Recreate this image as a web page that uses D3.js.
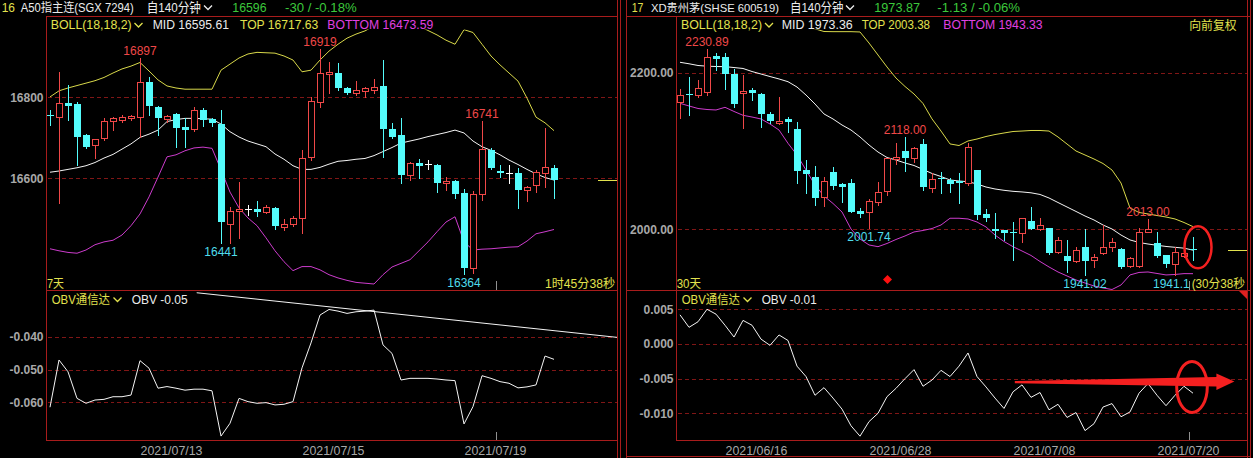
<!DOCTYPE html>
<html><head><meta charset="utf-8">
<script src="https://cdn.jsdelivr.net/npm/d3@7"></script>
<style>
html,body{margin:0;padding:0;background:#000;overflow:hidden}
svg{display:block;background:#000}
</style></head><body>
<svg id="c" width="1253" height="458"></svg>
<script>
// ================= DATA =================
// ---- Left: A50指主连 (SGX 7294), 140-minute bars ----
const leftOpen  = [16757,16751,16786,16784,16707,16681,16699,16742,16744,16749,16751,16838,16775,16746,16759,16727,16722,16769,16746,16734,16487,16519,16524,16524,16518,16526,16480,16487,16501,16653,16789,16857,16861,16822,16810,16816,16818,16828,16721,16707,16607,16637,16635,16633,16589,16594,16563,16378,16561,16670,16619,16613,16613,16571,16584,16614,16625];
const leftHigh  = [16769,16862,16830,16789,16710,16698,16748,16752,16756,16757,16897,16849,16779,16756,16762,16749,16775,16773,16750,16769,16530,16592,16534,16545,16535,16530,16500,16507,16670,16800,16919,16888,16884,16826,16840,16825,16846,16892,16737,16748,16640,16647,16645,16636,16604,16596,16573,16569,16741,16675,16633,16633,16625,16582,16621,16723,16633];
const leftLow   = [16732,16540,16744,16633,16676,16650,16695,16719,16740,16745,16703,16756,16707,16740,16678,16678,16718,16729,16730,16441,16441,16452,16510,16507,16514,16475,16473,16483,16464,16645,16777,16811,16818,16808,16805,16800,16810,16653,16700,16589,16596,16600,16623,16565,16571,16551,16364,16366,16547,16622,16603,16588,16526,16545,16567,16579,16551];
const leftClose = [16755,16786,16779,16703,16677,16696,16742,16748,16751,16754,16837,16779,16748,16754,16724,16719,16769,16744,16736,16491,16519,16524,16524,16518,16529,16482,16487,16501,16650,16791,16859,16863,16822,16810,16818,16822,16826,16721,16703,16609,16637,16630,16635,16589,16594,16561,16378,16561,16672,16626,16612,16613,16571,16578,16615,16627,16596];
const leftMid    = [16615,16618,16622,16626,16631,16639,16650,16659,16672,16685,16701,16709,16719,16740,16745,16748,16748,16747,16746,16734,16715,16702,16692,16685,16678,16660,16647,16631,16622,16622,16627,16635,16642,16644,16647,16649,16656,16666,16676,16687,16692,16697,16703,16708,16713,16719,16712,16692,16678,16669,16658,16645,16634,16622,16611,16602,16595.61];
const leftTop    = [16801,16816,16823,16829,16835,16841,16849,16860,16870,16877,16886,16865,16843,16828,16823,16820,16820,16820,16820,16867,16882,16897,16907,16911,16910,16909,16902,16892,16863,16867,16892,16914,16931,16946,16956,16964,16976,16982,16985,16985,16982,16976,16965,16954,16941,16931,16967,16960,16931,16902,16880,16860,16840,16798,16751,16737,16717.63];
const leftBottom = [16426,16421,16417,16415,16423,16436,16443,16447,16460,16483,16512,16554,16603,16653,16658,16668,16675,16677,16674,16621,16566,16527,16502,16483,16453,16421,16394,16372,16382,16382,16374,16362,16354,16348,16343,16341,16339,16362,16381,16390,16399,16421,16443,16468,16492,16505,16443,16423,16425,16426,16428,16430,16431,16445,16463,16468,16473.59];
const leftObv = [-0.0615,-0.0471,-0.0507,-0.0588,-0.0603,-0.0593,-0.0591,-0.0583,-0.0583,-0.0578,-0.0473,-0.0496,-0.0557,-0.0552,-0.0557,-0.0563,-0.0560,-0.0560,-0.0565,-0.0703,-0.0664,-0.0588,-0.0598,-0.0603,-0.0601,-0.0608,-0.0606,-0.0598,-0.0495,-0.0419,-0.0334,-0.0317,-0.0322,-0.0329,-0.0324,-0.0322,-0.0319,-0.0425,-0.0451,-0.0532,-0.0527,-0.0527,-0.0527,-0.0529,-0.0532,-0.0534,-0.0666,-0.0613,-0.0519,-0.0527,-0.0537,-0.0542,-0.0556,-0.0553,-0.0547,-0.0459,-0.0469];
const leftObvTrend = [[16.3,-0.0266],[63,-0.0402]];
const leftPriceTicks = [16600,16800];
const leftObvTicks = [-0.040,-0.050,-0.060];
const leftDateLabels = ["2021/07/13","2021/07/15","2021/07/19"];
const leftDatePos = [13.5,31.5,49.5];
const leftMarks = [{i:10,v:16897,k:"high"},{i:30,v:16919,k:"high"},{i:48,v:16741,k:"high"},{i:19,v:16441,k:"low"},{i:46,v:16364,k:"low"}];
const leftQuote = ["16","A50指主连(SGX 7294)","自140分钟","16596","-30 / -0.18%"];

// ---- Right: XD贵州茅 (SHSE 600519), 140-minute bars ----
const rightOpen  = [2162,2173,2171.5,2175,2221,2219.7,2198.3,2174.5,2178,2172.4,2147,2136,2140.5,2128,2075.8,2066.4,2041,2072.8,2057.5,2058.8,2023.8,2022,2035.3,2049,2089.4,2100,2091.5,2109,2052.4,2066,2063,2061.5,2058.8,2075.8,2019.6,2000.4,1999,1997,1995.7,2010.6,2000,2002,1971.4,1965.9,1960,1977,1960.8,1969.4,1977,1974.9,1953.1,1953,1997,1982,1967.2,1955.7,1966,1975];
const rightHigh  = [2179,2194,2190.6,2230.89,2225.5,2225.5,2205,2197,2180,2174,2150,2169,2144,2137,2088.5,2081,2066.4,2080,2059,2064,2026.8,2038.7,2061,2091,2109.8,2118,2105.5,2115,2072.3,2073.6,2065,2071.5,2110.6,2076,2025.6,2020.4,1999,2009.7,2015,2029,2014,2002,1990.6,1986.4,1977.8,2000,1968.5,2005.5,1988.5,1975.8,1965.1,2001.3,2013,1997,1967.2,1977.8,1979,1989.8];
const rightLow   = [2142,2146,2169.4,2171,2203.4,2178.8,2156,2129,2165,2131,2135.4,2135,2124.7,2059,2046,2031,2030,2052,2035,2022,2015.4,2001.74,2031,2043.8,2083,2075,2086,2050,2048,2046.8,2048,2033.2,2056.6,2012.8,2011,1988.5,1986.4,1960.8,1984,2000,1999,1968.5,1970,1945.9,1958.6,1941.02,1951.5,1968,1972.7,1950,1951.5,1951.5,1997,1965,1951.5,1941.1,1964,1960.8];
const rightClose = [2171,2171,2180,2220,2217.5,2198,2159.6,2177,2173.7,2147,2138.7,2138.7,2137.4,2075,2070.6,2040.4,2062,2055.7,2054.4,2022.5,2019.2,2036,2048,2090.7,2092.7,2091.5,2103.4,2054.4,2063.9,2064,2057.9,2059.4,2105.5,2018.3,2014,1997.8,1995.7,1995,2014,2000.4,2005.5,1970,1986.3,1959.9,1973.6,1960,1964.3,1977,1984.2,1951.5,1963,1997,2000,1966,1955.7,1971.4,1970,1973.87];
const rightMid    = [2213.3,2211.4,2209.2,2208.3,2207.9,2207.7,2206.6,2205.4,2201.5,2198.3,2195.1,2192,2188.5,2181.7,2171.5,2160,2147.3,2140.9,2133.2,2126.8,2117.9,2107.7,2098.7,2091.7,2088.5,2084.7,2081.5,2076.4,2071.3,2067.4,2063,2061.7,2060.8,2057.9,2054,2051.5,2049.8,2048.5,2047.7,2046.6,2044.5,2040,2034.2,2028.5,2022.8,2017,2011.9,2005.5,2000.4,1992.7,1986.4,1983.2,1981.2,1979.6,1978.1,1977,1975.9,1973.36];
const rightTop    = [2292,2290,2288,2286,2284,2282,2280,2278,2275,2272,2269,2266,2263,2260,2258,2256,2252.6,2252.4,2252.4,2252.4,2252,2237.9,2222.6,2207.3,2193.2,2182.4,2172.8,2160.7,2141,2125.5,2109,2107,2112.8,2115.3,2118.5,2121,2123,2124.9,2125.5,2126.2,2126.2,2125.5,2117.9,2108.9,2100,2094.9,2089.8,2084,2075.7,2059.1,2027.2,2021.5,2019.6,2017.6,2015.7,2013.2,2008.7,2003.38];
const rightBottom = [2160.9,2157.5,2154.3,2153,2152.4,2155.8,2150.5,2145.6,2143.4,2140.9,2134.5,2126.8,2109.8,2094.9,2075.7,2056.6,2042.5,2033,2022.1,2000.4,1987.6,1980,1977.8,1981.9,1987,1991.5,1996.6,1998.5,2001,2005.5,2014.1,2014.1,2013.2,2009.3,2003,1992.7,1984.4,1977.8,1972.3,1966.6,1958.9,1951.9,1945.5,1940.4,1935.3,1931.4,1927.6,1925.1,1923.1,1928.9,1941.7,1944.9,1945.5,1943.6,1941.7,1942.3,1943.4,1943.33];
const rightObv = [0.0042,0.0024,0.0032,0.0050,0.0043,0.0027,0.0010,0.0034,0.0027,0.0007,-0.0002,0.0013,0.0005,-0.0032,-0.0047,-0.0074,-0.0063,-0.0078,-0.0094,-0.0118,-0.0133,-0.0112,-0.0100,-0.0076,-0.0064,-0.0050,-0.0037,-0.0061,-0.0052,-0.0038,-0.0047,-0.0032,-0.0013,-0.0047,-0.0062,-0.0078,-0.0093,-0.0069,-0.0059,-0.0077,-0.0070,-0.0095,-0.0087,-0.0106,-0.0099,-0.0125,-0.0115,-0.0091,-0.0086,-0.0105,-0.0098,-0.0071,-0.0057,-0.0074,-0.0089,-0.0074,-0.0061,-0.0071];
const rightPriceTicks = [2000,2200];
const rightObvTicks = [0.005,0.000,-0.005,-0.010];
const rightDateLabels = ["2021/06/16","2021/06/28","2021/07/08","2021/07/20"];
const rightDatePos = [8.5,24.5,40.5,56.5];
const rightMarks = [{i:3,v:2230.89,k:"high"},{i:25,v:2118.00,k:"high"},{i:52,v:2013.00,k:"high"},{i:21,v:2001.74,k:"low"},{i:45,v:1941.02,k:"low"},{i:55,v:1941.10,k:"low",txt:"1941.1"}];
const rightSignals = [23];
const rightQuote = ["17","XD贵州茅(SHSE 600519)","自140分钟","1973.87","-1.13 / -0.06%"];
const rightArrow = [[37.2,-0.0055],[61.6,-0.0054]];

// ================= STYLE =================
const F = '"Liberation Sans", Arial, "Noto Sans CJK SC", sans-serif';
const RED='#f04848', CYAN='#54fcfc', LBLCYAN='#4fdcec', FRAME='#a81c1c', GRID='#801616',
      AXIS='#a8a8a8', YEL='#e2e24e', TOPC='#d8d84a', MAG='#e040e0', BOTC='#cc3ccc',
      WHITE='#ececec', GREEN='#3cc83c', ANN='#f42020';
const svg = d3.select('#c');
const fx = k => (v => v.toFixed(k));   // plain hyphen minus, like the original

function txt(x,y,s,fill,o={}){
  const t = svg.append('text').attr('x',x).attr('y',y).attr('fill',fill)
    .style('font-family',F).style('font-size',(o.size||12)+'px').text(s);
  if(o.anchor) t.attr('text-anchor',o.anchor);
  if(o.w) t.attr('textLength',o.w).attr('lengthAdjust','spacingAndGlyphs');
  if(o.bold) t.style('font-weight','bold');
  return t;
}
function chev(x,y,c){
  svg.append('path').attr('d',`M${x},${y}L${x+4},${y+4}L${x+8},${y}`)
    .attr('fill','none').attr('stroke',c).attr('stroke-width',1.3);
}
function hline(x1,x2,y,c){ svg.append('line').attr('x1',x1).attr('x2',x2).attr('y1',y).attr('y2',y).attr('stroke',c).attr('shape-rendering','crispEdges'); }
function vline(x,y1,y2,c){ svg.append('line').attr('x1',x).attr('x2',x).attr('y1',y1).attr('y2',y2).attr('stroke',c).attr('shape-rendering','crispEdges'); }

function drawPanel(p){
  const n = p.open.length;
  const x = d3.scaleLinear().domain([0,n-1]).range([p.xFirst, p.xFirst + 9*(n-1)]);
  const y = d3.scaleLinear().domain(p.priceDomain).range(p.priceRange);
  const yo = d3.scaleLinear().domain(p.obvDomain).range(p.obvRange);
  const g = svg.append('g');

  svg.append('clipPath').attr('id','cm'+p.id).append('rect')
    .attr('x',p.px0+1).attr('y',p.clipTop).attr('width',p.px1-p.px0-1).attr('height',p.pMid-p.clipTop);
  svg.append('clipPath').attr('id','co'+p.id).append('rect')
    .attr('x',p.px0+1).attr('y',p.pMid+1).attr('width',p.px1-p.px0-1).attr('height',p.pBot-p.pMid-1);

  // grid
  g.selectAll('line.gp').data(p.priceTicks).join('line').attr('class','gp')
    .attr('x1',p.px0+1).attr('x2',p.px1).attr('y1',d=>Math.round(y(d))+0.5).attr('y2',d=>Math.round(y(d))+0.5)
    .attr('stroke',GRID).attr('stroke-dasharray','4,3').attr('shape-rendering','crispEdges');
  g.selectAll('line.go').data(p.obvTicks).join('line').attr('class','go')
    .attr('x1',p.px0+1).attr('x2',p.px1).attr('y1',d=>Math.round(yo(d))+0.5).attr('y2',d=>Math.round(yo(d))+0.5)
    .attr('stroke',GRID).attr('stroke-dasharray','4,3').attr('shape-rendering','crispEdges');

  // axes
  const styleAxis = a => { a.select('.domain').remove(); a.selectAll('text').attr('fill',AXIS)
      .style('font-family',F).style('font-size','12px').style('font-weight','bold'); };
  g.append('g').attr('transform',`translate(${p.px0},0)`)
    .call(d3.axisLeft(y).tickValues(p.priceTicks).tickFormat(p.priceFmt).tickSize(0).tickPadding(3)).call(styleAxis);
  g.append('g').attr('transform',`translate(${p.px0},0)`)
    .call(d3.axisLeft(yo).tickValues(p.obvTicks).tickFormat(fx(3)).tickSize(0).tickPadding(3)).call(styleAxis);

  // bollinger lines
  const line = d3.line().x((d,i)=>x(i)).y(d=>y(d));
  const lg = g.append('g').attr('clip-path',`url(#cm${p.id})`);
  lg.append('path').attr('d',line(p.top)).attr('fill','none').attr('stroke',TOPC).attr('stroke-width',1);
  lg.append('path').attr('d',line(p.bottom)).attr('fill','none').attr('stroke',BOTC).attr('stroke-width',1);
  lg.append('path').attr('d',line(p.mid)).attr('fill','none').attr('stroke','#f4f4f4').attr('stroke-width',1);

  // candles
  const cg = g.append('g').attr('shape-rendering','crispEdges');
  cg.selectAll('g').data(d3.range(n)).join('g').each(function(i){
    const s = d3.select(this);
    const o=p.open[i], c=p.close[i], h=p.high[i], l=p.low[i];
    const cx = Math.round(x(i));
    const col = c>o ? RED : (c<o ? CYAN : '#ffffff');
    s.append('line').attr('x1',cx+0.5).attr('x2',cx+0.5).attr('y1',Math.round(y(h))).attr('y2',Math.round(y(l))+1).attr('stroke',col);
    const t = Math.round(y(Math.max(o,c))), b = Math.round(y(Math.min(o,c)));
    if(c>o){
      s.append('rect').attr('x',cx-3+0.5).attr('y',t+0.5).attr('width',6).attr('height',Math.max(b-t,1))
        .attr('fill','#000').attr('stroke',RED);
    } else if(c<o){
      s.append('rect').attr('x',cx-3).attr('y',t).attr('width',7).attr('height',Math.max(b-t,1)).attr('fill',CYAN);
    } else {
      s.append('line').attr('x1',cx-3).attr('x2',cx+4).attr('y1',t+0.5).attr('y2',t+0.5).attr('stroke','#ffffff');
    }
  });

  // high / low labels
  p.marks.forEach(m=>{
    const s = m.txt || (p.markFmt(m.v));
    if(m.k==='high') txt(x(m.i), y(m.v)-3, s, RED, {anchor:'middle'});
    else txt(m.txt? x(m.i)-22 : x(m.i), y(m.v)+13, s, LBLCYAN, {anchor: m.txt?'start':'middle'});
  });

  // OBV
  const lo = d3.line().x((d,i)=>x(i)).y(d=>yo(d));
  const og = g.append('g').attr('clip-path',`url(#co${p.id})`);
  og.append('path').attr('d',lo(p.obv)).attr('fill','none').attr('stroke','#f4f4f4').attr('stroke-width',1);
  if(p.trend){
    og.append('path').attr('d',d3.line().x(d=>x(d[0])).y(d=>yo(d[1]))(p.trend))
      .attr('fill','none').attr('stroke','#f4f4f4').attr('stroke-width',1);
  }

  // current price stub
  const lc = p.close[n-1];
  svg.append('line').attr('x1',p.px1-19).attr('x2',p.px1).attr('y1',Math.round(y(lc))+0.5).attr('y2',Math.round(y(lc))+0.5)
    .attr('stroke',YEL).attr('shape-rendering','crispEdges');

  // dates
  p.dates.forEach((d,k)=>txt(x(p.datePos[k]), 455, d, AXIS, {anchor:'middle', w:62, size:12}));
  const tx = Math.round(x(p.datePos[p.datePos.length-1]))+0.5;
  vline(tx, p.pMid-10, p.pMid, '#909090');
  vline(tx, p.pBot-9, p.pBot, '#909090');

  return {x,y,yo};
}

// ================= LEFT PANEL =================
const L = drawPanel({
  id:'L', px0:46.5, px1:617, pMid:290.5, pBot:440.5, clipTop:29.5, xFirst:50,
  open:leftOpen, high:leftHigh, low:leftLow, close:leftClose,
  mid:leftMid, top:leftTop, bottom:leftBottom, obv:leftObv, trend:leftObvTrend,
  priceDomain:[16600,16800], priceRange:[178.3,97.3], priceTicks:leftPriceTicks, priceFmt:fx(0),
  obvDomain:[-0.060,-0.040], obvRange:[402.3,336.7], obvTicks:leftObvTicks,
  marks:leftMarks, markFmt:fx(0), dates:leftDateLabels, datePos:leftDatePos
});

// ================= RIGHT PANEL =================
const R = drawPanel({
  id:'R', px0:676.5, px1:1247, pMid:290.5, pBot:440.5, clipTop:29.5, xFirst:680,
  open:rightOpen, high:rightHigh, low:rightLow, close:rightClose,
  mid:rightMid, top:rightTop, bottom:rightBottom, obv:rightObv,
  priceDomain:[2000,2200], priceRange:[229.3,72.7], priceTicks:rightPriceTicks, priceFmt:fx(2),
  obvDomain:[-0.010,0.005], obvRange:[413.3,309.3], obvTicks:rightObvTicks,
  marks:rightMarks, markFmt:fx(2), dates:rightDateLabels, datePos:rightDatePos
});

// signals (red diamonds)
rightSignals.forEach(i=>{
  const cx = Math.round(R.x(i))+0.5, cy = 279.5;
  svg.append('path').attr('d',`M${cx},${cy-4.5}L${cx+4.5},${cy}L${cx},${cy+4.5}L${cx-4.5},${cy}Z`).attr('fill','#ff1010');
});

// ================= FRAMES =================
hline(46,617,16.5,FRAME); hline(46,617,290.5,FRAME); hline(46,617,440.5,FRAME);
vline(46.5,16,441,FRAME);
vline(617.5,0,458,FRAME); vline(620.5,0,458,FRAME); vline(626.5,0,458,FRAME);
hline(626,1250,16.5,FRAME); hline(626,1250,290.5,FRAME); hline(676,1247,440.5,FRAME); hline(626,1250,456.5,FRAME);
vline(676.5,16,441,FRAME);
vline(1247.5,0,458,FRAME); vline(1250.5,0,458,FRAME);
svg.append('path').attr('d','M1239,291L1247,291L1247,299Z').attr('fill','#e02020');

// ================= TEXTS =================
const f2 = fx(2);
// left header
txt(1.7,12,leftQuote[0],YEL,{size:13,w:13.3});
txt(20.7,12,leftQuote[1],WHITE,{size:12,w:113});
txt(146.7,12,leftQuote[2],WHITE,{size:13,w:54.3});
chev(204,5.5,WHITE);
txt(232.3,12,leftQuote[3],GREEN,{size:13,w:34.3});
txt(285,12,leftQuote[4],GREEN,{size:13,w:71.7});
// right header
txt(631.7,12,rightQuote[0],YEL,{size:13,w:11.7});
txt(651,12,rightQuote[1],WHITE,{size:11.5,w:128});
txt(790,12,rightQuote[2],WHITE,{size:13,w:53.5});
chev(846,5.5,WHITE);
txt(874.3,12,rightQuote[3],GREEN,{size:13,w:45.7});
txt(937.3,12,rightQuote[4],GREEN,{size:13,w:82.7});

// indicator titles
txt(50.7,28.5,'BOLL(18,18,2)',YEL,{w:81}); chev(134.5,23,YEL);
txt(152.7,28.5,'MID '+f2(leftMid[leftMid.length-1]),WHITE,{w:76.3});
txt(240,28.5,'TOP '+f2(leftTop[leftTop.length-1]),YEL,{w:78.3});
txt(327.3,28.5,'BOTTOM '+f2(leftBottom[leftBottom.length-1]),MAG,{w:106});
txt(681,28.5,'BOLL(18,18,2)',YEL,{w:81}); chev(765,23,YEL);
txt(781.7,28.5,'MID '+f2(rightMid[rightMid.length-1]),WHITE,{w:71});
txt(861.7,28.5,'TOP '+f2(rightTop[rightTop.length-1]),YEL,{w:68.3});
txt(943.3,28.5,'BOTTOM '+f2(rightBottom[rightBottom.length-1]),MAG,{w:99.3});
txt(1189.3,30,'向前复权',YEL,{w:47.3});

// OBV titles
txt(51.7,304,'OBV通信达',YEL,{w:58.3}); chev(113.5,297.5,YEL);
txt(131.7,304,'OBV '+f2(leftObv[leftObv.length-1]),WHITE,{w:56});
txt(681.7,304,'OBV通信达',YEL,{w:58.3}); chev(743.5,297.5,YEL);
txt(761.7,304,'OBV '+f2(rightObv[rightObv.length-1]),WHITE,{w:55});

// period / countdown
txt(47,288,'7天',YEL,{w:17});
txt(545,288,'1时45分38秒',YEL,{w:70});
txt(676.7,288,'30天',YEL,{w:24.3});
txt(1191.7,288,'(30分38秒',YEL,{w:53.3});

// ================= ANNOTATIONS (right panel) =================
const lastR = rightClose.length-1;
svg.append('ellipse').attr('cx',R.x(lastR)+5).attr('cy',R.y(1977)).attr('rx',13.5).attr('ry',21)
  .attr('fill','none').attr('stroke',ANN).attr('stroke-width',2.5);
svg.append('ellipse').attr('cx',R.x(lastR)-1).attr('cy',R.yo(-0.0062)).attr('rx',15.3).attr('ry',25.5)
  .attr('fill','none').attr('stroke',ANN).attr('stroke-width',3);
{
  const x0 = R.x(rightArrow[0][0]), y0 = R.yo(rightArrow[0][1]);
  const x1 = R.x(rightArrow[1][0]), y1 = R.yo(rightArrow[1][1]);
  const hb = x1-18;
  svg.append('path').attr('d',
    `M${x0},${y0-1}L${hb},${y1-4.5}L${hb},${y1-8}L${x1},${y1}L${hb},${y1+8.5}L${hb},${y1+5}L${x0},${y0+1.2}Z`)
    .attr('fill',ANN);
}
</script>
</body></html>
